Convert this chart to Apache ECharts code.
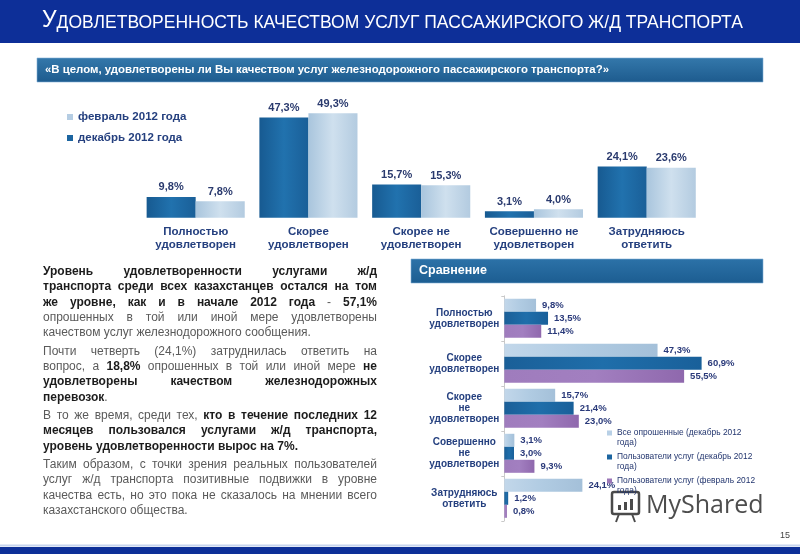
<!DOCTYPE html>
<html><head><meta charset="utf-8">
<script src="https://cdn.jsdelivr.net/npm/echarts@6/dist/echarts.min.js"></script>
<style>
html,body{margin:0;padding:0;background:#fff;}
#wrap{position:relative;width:800px;height:554px;overflow:hidden;}
#chart{position:absolute;left:0;top:0;width:800px;height:554px;}
#txt{position:absolute;left:43px;top:264px;width:334px;font-family:'Liberation Sans',Arial,sans-serif;font-size:12px;line-height:15.3px;color:#5a5a5a;}
#txt p{margin:0 0 3.2px 0;}
#txt .j{text-align:justify;text-align-last:justify;white-space:nowrap;}
#txt .l{text-align:left;white-space:nowrap;}
#txt b{color:#1c1c1c;}
</style></head>
<body><div id="wrap"><div id="chart"></div>
<div id="txt">
<p><span class="j" style="display:block"><b>Уровень удовлетворенности услугами ж/д</b></span>
<span class="j" style="display:block"><b>транспорта среди всех казахстанцев остался на том</b></span>
<span class="j" style="display:block"><b>же уровне, как и в начале 2012 года</b> - <b>57,1%</b></span>
<span class="j" style="display:block">опрошенных в той или иной мере удовлетворены</span>
<span class="l" style="display:block">качеством услуг железнодорожного сообщения.</span></p>
<p><span class="j" style="display:block">Почти четверть (24,1%) затруднилась ответить на</span>
<span class="j" style="display:block">вопрос, а <b>18,8%</b> опрошенных в той или иной мере <b>не</b></span>
<span class="j" style="display:block"><b>удовлетворены качеством железнодорожных</b></span>
<span class="l" style="display:block"><b>перевозок</b>.</span></p>
<p><span class="j" style="display:block">В то же время, среди тех, <b>кто в течение последних 12</b></span>
<span class="j" style="display:block"><b>месяцев пользовался услугами ж/д транспорта,</b></span>
<span class="l" style="display:block"><b>уровень удовлетворенности вырос на 7%.</b></span></p>
<p><span class="j" style="display:block">Таким образом, с точки зрения реальных пользователей</span>
<span class="j" style="display:block">услуг ж/д транспорта позитивные подвижки в уровне</span>
<span class="j" style="display:block">качества есть, но это пока не сказалось на мнении всего</span>
<span class="l" style="display:block">казахстанского общества.</span></p>
</div></div>
<script>
// ---- data ----
const topCategories = ['Полностью\nудовлетворен','Скорее\nудовлетворен','Скорее не\nудовлетворен','Совершенно не\nудовлетворен','Затрудняюсь\nответить'];
const topNames = ['декабрь 2012 года','февраль 2012 года'];
const topDec2012 = [9.8, 47.3, 15.7, 3.1, 24.1];
const topFeb2012 = [7.8, 49.3, 15.3, 4.0, 23.6];

const cmpCategories = ['Полностью\nудовлетворен','Скорее\nудовлетворен','Скорее\nне\nудовлетворен','Совершенно\nне\nудовлетворен','Затрудняюсь\nответить'];
const cmpNames = ['Все опрошенные (декабрь 2012 года)','Пользователи услуг (декабрь 2012 года)','Пользователи услуг (февраль 2012 года)'];
const cmpAllDec = [9.8, 47.3, 15.7, 3.1, 24.1];
const cmpUsersDec = [13.5, 60.9, 21.4, 3.0, 1.2];
const cmpUsersFeb = [11.4, 55.5, 23.0, 9.3, 0.8];

const titleText = 'Удовлетворенность качеством услуг пассажирского ж/д транспорта';
const questionText = '«В целом, удовлетворены ли Вы качеством услуг железнодорожного пассажирского транспорта?»';
const compareText = 'Сравнение';
const pageNum = '15';

// ---- styles ----
const FONT = "'Liberation Sans', Arial, sans-serif";
const NARROW = "'Liberation Sans Narrow','Liberation Sans',Arial";
const NAVY = '#0d2f98';
const fmt = p => p.value.toFixed(1).replace('.', ',') + '%';
const hGrad = (a,b,c) => new echarts.graphic.LinearGradient(0,0,1,0,[{offset:0,color:a},{offset:0.5,color:b},{offset:1,color:c}]);
const vGrad = (a,b) => new echarts.graphic.LinearGradient(0,0,0,1,[{offset:0,color:a},{offset:1,color:b}]);
const darkC = hGrad('#175a91','#2172ae','#1a5f98');
const lightC = hGrad('#a9c5dd','#cfe0ee','#b3cbe0');

const chart = echarts.init(document.getElementById('chart'), null, {renderer:'canvas'});
const upper = titleText.toUpperCase();
chart.setOption({
  animation:false,
  textStyle:{fontFamily:FONT},
  graphic:[
    {type:'rect', shape:{x:0,y:0,width:800,height:43}, style:{fill:NAVY}},
    {type:'text', style:{x:42, y:32, text:'{b|'+upper[0]+'}{s|'+upper.slice(1)+'}', verticalAlign:'bottom', fill:'#fff',
      rich:{b:{fontSize:23, fontFamily:NARROW, fill:'#fff', verticalAlign:'bottom'},
            s:{fontSize:17.5, fontFamily:NARROW, fill:'#fff', verticalAlign:'bottom'}}}},
    {type:'rect', shape:{x:37,y:58,width:726,height:24}, style:{fill:vGrad('#3478ab','#1d5b8e'), stroke:'#7fb0d6', lineWidth:0.6}},
    {type:'text', style:{x:45, y:70, text:questionText, fill:'#fff', fontSize:11.4, fontWeight:'bold', fontFamily:NARROW, verticalAlign:'middle'}},
    {type:'rect', shape:{x:411,y:259,width:352,height:24}, style:{fill:vGrad('#2c72a8','#1c5d91'), stroke:'#7fb0d6', lineWidth:0.6}},
    {type:'text', style:{x:419, y:271, text:compareText, fill:'#fff', fontSize:12.5, fontWeight:'bold', fontFamily:FONT, verticalAlign:'middle'}},
    {type:'rect', shape:{x:0,y:544.5,width:800,height:2}, style:{fill:'#c6d4ee'}},
    {type:'rect', shape:{x:0,y:547,width:800,height:7}, style:{fill:NAVY}},
    {type:'text', style:{x:785, y:536, text:pageNum, fill:'#444', fontSize:9, fontFamily:FONT, align:'center', verticalAlign:'middle'}},
    // watermark
    {type:'rect', shape:{x:612,y:492,width:27,height:22,r:2}, style:{fill:'none', stroke:'#4a4a4a', lineWidth:2.5}},
    {type:'rect', shape:{x:618,y:505,width:3,height:5}, style:{fill:'#4a4a4a'}},
    {type:'rect', shape:{x:624,y:502,width:3,height:8}, style:{fill:'#4a4a4a'}},
    {type:'rect', shape:{x:630,y:499,width:3,height:11}, style:{fill:'#4a4a4a'}},
    {type:'polyline', shape:{points:[[619,514],[616,522]]}, style:{stroke:'#4a4a4a', lineWidth:2}},
    {type:'polyline', shape:{points:[[632,514],[635,522]]}, style:{stroke:'#4a4a4a', lineWidth:2}},
    {type:'text', style:{x:646, y:506, text:'MyShared', fill:'#4d4d4d', fontSize:25, fontFamily:"'Open Sans',Roboto,sans-serif", verticalAlign:'middle'}}
  ],
  legend:[
    {orient:'vertical', left:67, top:110, padding:0, itemWidth:6, itemHeight:6, itemGap:7, icon:'rect',
     data:[{name:topNames[1], itemStyle:{color:'#b5cde3'}},{name:topNames[0], itemStyle:{color:'#1c65a0'}}],
     textStyle:{fontSize:11.5, fontWeight:'bold', color:'#25407f', lineHeight:14, fontFamily:FONT}},
    {orient:'vertical', left:607, top:428, padding:0, itemWidth:5, itemHeight:20, itemGap:4,
     icon:'path://M0,0H0.05V0.05H0Z M0,2.5H5V7.5H0Z M0,19.95H0.05V20H0Z',
     data:[{name:cmpNames[0], itemStyle:{color:'#b8d0e6'}},{name:cmpNames[1], itemStyle:{color:'#1c65a0'}},{name:cmpNames[2], itemStyle:{color:'#9c77b8'}}],
     formatter: n => n.replace(' 2012 года)', ' 2012\nгода)'),
     textStyle:{fontSize:8.4, color:'#22356e', lineHeight:10, fontFamily:FONT}}
  ],
  grid:[
    {left:139.3, top:111.7, width:563.8, height:106},
    {left:504.3, top:295.8, width:226.8, height:225}
  ],
  xAxis:[
    {gridIndex:0, type:'category', data:topCategories, axisLine:{show:false}, axisTick:{show:false},
     axisLabel:{margin:7, fontSize:11.5, fontWeight:'bold', color:'#25407f', lineHeight:13.3, fontFamily:FONT, interval:0}},
    {gridIndex:1, type:'value', min:0, max:70, show:false}
  ],
  yAxis:[
    {gridIndex:0, type:'value', min:0, max:50, show:false},
    {gridIndex:1, type:'category', data:cmpCategories, inverse:true,
     axisLine:{lineStyle:{color:'#c9c9c9'}}, axisTick:{show:true, length:3, lineStyle:{color:'#c9c9c9'}},
     axisLabel:{margin:40, align:'center', fontSize:10, fontWeight:'bold', color:'#25407f', lineHeight:11, fontFamily:FONT, interval:0}}
  ],
  series:[
    {name:topNames[0], type:'bar', xAxisIndex:0, yAxisIndex:0, data:topDec2012, barGap:'0%', barCategoryGap:'13%',
     itemStyle:{color:darkC},
     label:{show:true, position:'top', distance:4, formatter:fmt, fontSize:11, fontWeight:'bold', color:'#2a3a6e', fontFamily:FONT}},
    {name:topNames[1], type:'bar', xAxisIndex:0, yAxisIndex:0, data:topFeb2012, barGap:'0%', barCategoryGap:'13%',
     itemStyle:{color:lightC},
     label:{show:true, position:'top', distance:4, formatter:fmt, fontSize:11, fontWeight:'bold', color:'#2a3a6e', fontFamily:FONT}},
    {name:cmpNames[0], type:'bar', xAxisIndex:1, yAxisIndex:1, data:cmpAllDec, barGap:'0%', barCategoryGap:'13.3%',
     itemStyle:{color:hGrad('#c2d7ea','#b0cbe2','#a4c0d9')},
     label:{show:true, position:'right', distance:6, formatter:fmt, fontSize:9.5, fontWeight:'bold', color:'#2a3a7a', fontFamily:FONT}},
    {name:cmpNames[1], type:'bar', xAxisIndex:1, yAxisIndex:1, data:cmpUsersDec, barGap:'0%', barCategoryGap:'13.3%',
     itemStyle:{color:hGrad('#1a5f98','#1f6eaa','#19609a')},
     label:{show:true, position:'right', distance:6, formatter:fmt, fontSize:9.5, fontWeight:'bold', color:'#2a3a7a', fontFamily:FONT}},
    {name:cmpNames[2], type:'bar', xAxisIndex:1, yAxisIndex:1, data:cmpUsersFeb, barGap:'0%', barCategoryGap:'13.3%',
     itemStyle:{color:hGrad('#9f7cbd','#a27fc0','#8f68ad')},
     label:{show:true, position:'right', distance:6, formatter:fmt, fontSize:9.5, fontWeight:'bold', color:'#2a3a7a', fontFamily:FONT}}
  ]
});
</script>
</body></html>
